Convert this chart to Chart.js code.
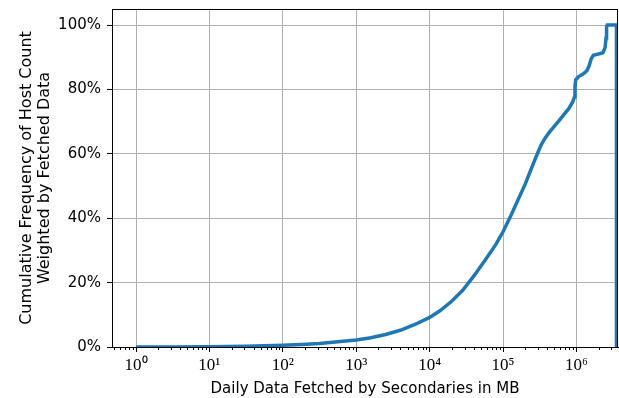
<!DOCTYPE html>
<html><head><meta charset="utf-8">
<script src="https://cdn.jsdelivr.net/npm/chart.js@4"></script>
<style>html,body{margin:0;padding:0;background:#fff}</style>
</head><body>
<canvas id="c" width="619" height="398"></canvas>
<script>
// Data fetched per day (MB) and cumulative weighted frequency (%)
const dataMB = [1, 3.16, 10, 31.6, 100, 178, 316, 562, 1000, 1585, 2512, 3981, 6310,
  10000, 14125, 19953, 28184, 39811, 56234, 79433,
  100000, 125893, 158489, 199526, 251189, 295121, 331131, 371535, 426580, 501187, 602560, 707946, 794328, 891251, 944061, 954993,
  977237, 1071519, 1230269, 1380384, 1479108, 1584893, 1698244, 1995262, 2290868, 2454709, 2529297, 2570396, 2630268, 3507519, 3507519];
const cumPct = [0, 0.02, 0.08, 0.25, 0.55, 0.8, 1.1, 1.6, 2.2, 2.9, 3.9, 5.2, 7.0,
  9.2, 11.4, 14.2, 17.6, 22.0, 26.8, 31.8,
  35.8, 40.5, 45.5, 50.5, 56.3, 60.2, 62.8, 64.8, 66.7, 68.6, 70.8, 72.8, 74.2, 76.2, 77.8, 81,
  83, 84, 84.8, 85.8, 87.2, 89.5, 90.6, 91, 91.4, 93, 96, 99.5, 100, 100, 0];
const yTickValues = [0, 20, 40, 60, 80, 100];
const supDigits = ['⁰','¹','²','³','⁴','⁵','⁶','⁷','⁸','⁹'];
const xTitle = 'Daily Data Fetched by Secondaries in MB';
const yTitle = ['Cumulative Frequency of Host Count', 'Weighted by Fetched Data'];

const X_MIN = 0.471, X_MAX = 3.68e6;
function isMajor(v) { const l = Math.log10(v); return Math.abs(l - Math.round(l)) < 1e-9; }
function buildLogTicks() {
  const t = [];
  for (let e = -1; e <= 7; e++) {
    for (let m = 1; m <= 9; m++) {
      const v = m * Math.pow(10, e);
      if (v >= X_MIN && v <= X_MAX) t.push({ value: v, major: m === 1 });
    }
  }
  return t;
}

const spinePlugin = {
  id: 'spines',
  afterDraw(chart) {
    const a = chart.chartArea, ctx = chart.ctx;
    ctx.save();
    ctx.strokeStyle = '#000';
    ctx.lineWidth = 1;
    ctx.strokeRect(Math.round(a.left) + 0.5, Math.round(a.top) + 0.5, Math.round(a.right - a.left) - 1, Math.round(a.bottom - a.top));
    // minor ticks on the log axis (shorter than major ones)
    const xs = chart.scales.x;
    ctx.beginPath();
    xs.ticks.forEach(t => {
      if (isMajor(t.value)) return;
      const px = Math.round(xs.getPixelForValue(t.value)) + 0.5;
      ctx.moveTo(px, Math.round(a.bottom));
      ctx.lineTo(px, Math.round(a.bottom) + 3);
    });
    ctx.stroke();
    ctx.restore();
  }
};

new Chart(document.getElementById('c'), {
  type: 'line',
  data: {
    datasets: [{
      data: dataMB.map((x, i) => ({ x: x, y: cumPct[i] })),
      borderColor: '#1f77b4',
      borderWidth: 3.5,
      pointRadius: 0,
      tension: 0,
      fill: false
    }]
  },
  options: {
    responsive: false,
    animation: false,
    layout: { padding: { top: 9, right: 1, left: 0, bottom: 0 } },
    plugins: { legend: { display: false }, tooltip: { enabled: false } },
    scales: {
      x: {
        type: 'logarithmic',
        min: X_MIN, max: X_MAX,
        afterBuildTicks: s => { s.ticks = buildLogTicks(); },
        afterFit: s => { s.height = 51; s.paddingLeft = 0; s.paddingRight = 0; },
        ticks: {
          autoSkip: false, maxRotation: 0, minRotation: 0, padding: 3,
          color: '#000',
          font: { family: 'Liberation Serif', size: 17 },
          callback: (v) => {
            if (!isMajor(v)) return '';
            const e = Math.round(Math.log10(v));
            return '10' + supDigits[e];
          }
        },
        grid: {
          color: c => (c.tick && isMajor(c.tick.value)) ? '#b0b0b0' : 'rgba(0,0,0,0)',
          tickColor: c => (c.tick && isMajor(c.tick.value)) ? '#000' : 'rgba(0,0,0,0)',
          tickLength: 5,
          lineWidth: 1
        },
        border: { display: true, color: '#000', width: 1 },
        title: { display: true, text: xTitle, color: '#000', font: { family: 'DejaVu Sans', size: 15, lineHeight: 1.2 }, padding: { top: 2, bottom: 0 } }
      },
      y: {
        min: 0, max: 105,
        afterBuildTicks: s => { s.ticks = yTickValues.map(v => ({ value: v })); },
        afterFit: s => { s.width = 112; s.paddingTop = 0; s.paddingBottom = 0; },
        ticks: {
          padding: 6, color: '#000',
          font: { family: 'DejaVu Sans', size: 15 },
          callback: v => v + '%'
        },
        grid: { color: '#b0b0b0', tickColor: '#000', tickLength: 5, lineWidth: 1 },
        border: { display: true, color: '#000', width: 1 },
        title: { display: true, text: yTitle, color: '#000', font: { family: 'DejaVu Sans', size: 16, lineHeight: 1.12 }, padding: { top: 18, bottom: 0 } }
      }
    }
  },
  plugins: [spinePlugin]
});
</script>
</body></html>
